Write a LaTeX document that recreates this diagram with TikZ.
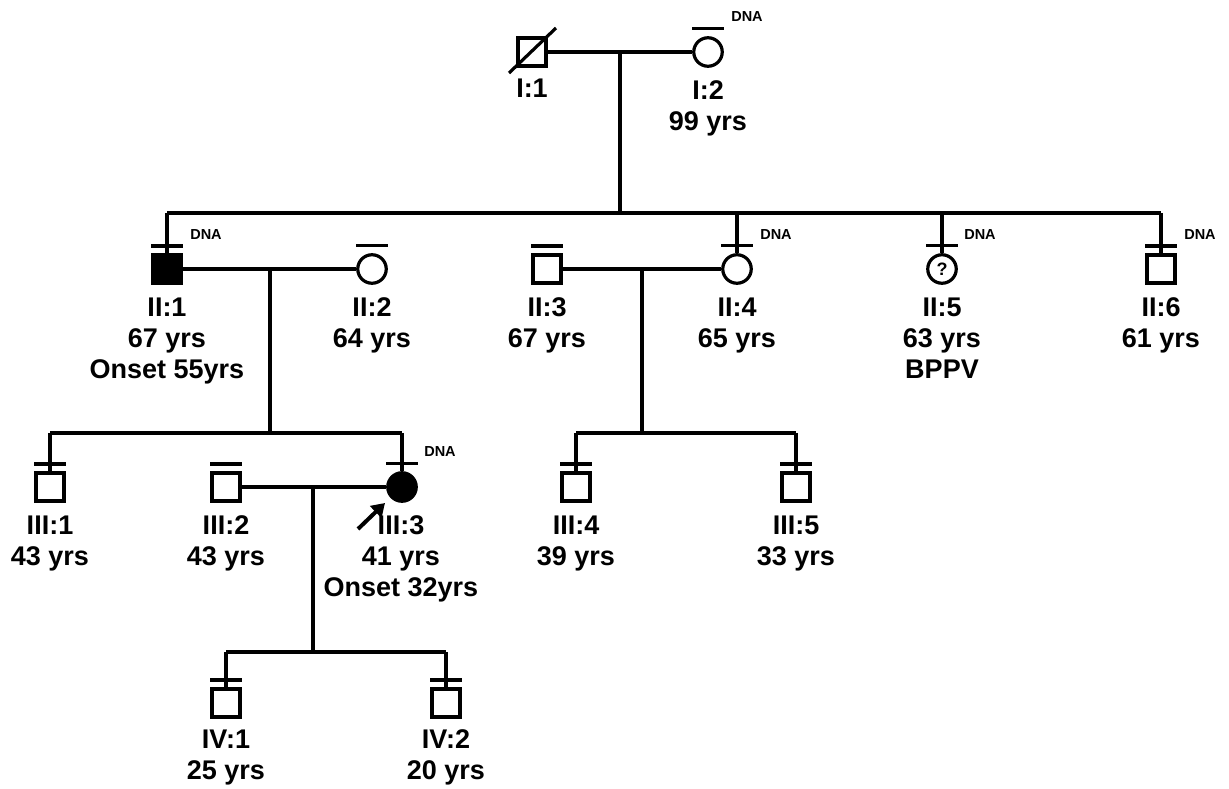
\documentclass[tikz,border=0pt]{standalone}
\usepackage{fontspec}
\setmainfont{Liberation Sans}
\usetikzlibrary{calc,arrows.meta}
\newcommand\tbar[1]{\draw[ln] ([xshift=-16pt,yshift=7.5pt]#1.north) -- ([xshift=16pt,yshift=7.5pt]#1.north);}
\begin{document}
\begin{tikzpicture}[x=1pt,y=-1pt,
  ln/.style={line width=3.2pt},
  male/.style={draw,line width=3.2pt,rectangle,minimum size=28pt,inner sep=0pt},
  female/.style={draw,line width=3.2pt,circle,minimum size=28.5pt,inner sep=0pt},
  aff/.style={fill=black},
  lab/.style={align=center,font=\fontsize{27}{31}\selectfont\bfseries,anchor=base,inner sep=0pt},
  dna/.style={font=\fontsize{14.5}{16}\selectfont\bfseries,inner sep=0pt}]
\useasboundingbox (0,0) rectangle (1229,789);

% Generation I
\node[male] (I1) at (532,52) {};
\node[female] (I2) at (708,52) {};
\draw[ln] ($(I1.center)+(-23,21)$) -- ($(I1.center)+(24,-24)$);
\tbar{I2}
\node[dna] (I2d) at (747,17) {DNA};
\coordinate (m1) at (620,52);
\coordinate (s2) at (620,213);
\draw[ln] (I1) -- (I2);
\draw[ln] (m1) -- (s2);
\node[lab] (I1l) at (532,98) {I:1};
\node[lab] (I2l) at (708,131) {I:2\\99 yrs};

% Generation II
\node[male,aff] (II1) at (167,269) {};
\node[female] (II2) at (372,269) {};
\node[male] (II3) at (547,269) {};
\node[female] (II4) at (737,269) {};
\node[female,font=\fontsize{18}{18}\selectfont\bfseries] (II5) at (942,269) {?};
\node[male] (II6) at (1161,269) {};
\coordinate (s2l) at (167,213);
\coordinate (s2r) at (1161,213);
\draw[ln] (s2l) -- (s2r);
\foreach \n in {II1,II4,II5,II6}{\draw[ln] (\n|-s2l) -- (\n.north);}
\foreach \n in {II1,II2,II3,II4,II5,II6}{\tbar{\n}}
\node[dna] (II1d) at (206,235) {DNA};
\node[dna] (II4d) at (776,235) {DNA};
\node[dna] (II5d) at (980,235) {DNA};
\node[dna] (II6d) at (1200,235) {DNA};
\draw[ln] (II1) -- (II2);
\draw[ln] (II3) -- (II4);
\coordinate (m2a) at (270,269);
\coordinate (m2b) at (642,269);
\coordinate (s3a) at (270,433);
\coordinate (s3b) at (642,433);
\draw[ln] (m2a) -- (s3a);
\draw[ln] (m2b) -- (s3b);
\node[lab] (II1l) at (167,378) {II:1\\67 yrs\\Onset 55yrs};
\node[lab] (II2l) at (372,347) {II:2\\64 yrs};
\node[lab] (II3l) at (547,347) {II:3\\67 yrs};
\node[lab] (II4l) at (737,347) {II:4\\65 yrs};
\node[lab] (II5l) at (942,378) {II:5\\63 yrs\\BPPV};
\node[lab] (II6l) at (1161,347) {II:6\\61 yrs};

% Generation III
\node[male] (III1) at (50,487) {};
\node[male] (III2) at (226,487) {};
\node[female,aff] (III3) at (402,487) {};
\node[male] (III4) at (576,487) {};
\node[male] (III5) at (796,487) {};
\coordinate (s3al) at (50,433);
\coordinate (s3ar) at (402,433);
\coordinate (s3bl) at (576,433);
\coordinate (s3br) at (796,433);
\draw[ln] (s3al) -- (s3ar);
\draw[ln] (s3bl) -- (s3br);
\foreach \n in {III1,III3,III4,III5}{\draw[ln] (\n|-s3a) -- (\n.north);}
\foreach \n in {III1,III2,III3,III4,III5}{\tbar{\n}}
\node[dna] (III3d) at (440,452) {DNA};
\draw[ln] (III2) -- (III3);
\coordinate (m3) at (313,487);
\coordinate (s4) at (313,652);
\draw[ln] (m3) -- (s4);
\coordinate (pa) at (358,529);
\coordinate (pb) at (385,503);
\draw[line width=4pt,-{Triangle[length=13pt,width=16pt]}] (pa) -- (pb);
\node[lab] (III1l) at (50,565) {III:1\\43 yrs};
\node[lab] (III2l) at (226,565) {III:2\\43 yrs};
\node[lab] (III3l) at (401,596) {III:3\\41 yrs\\Onset 32yrs};
\node[lab] (III4l) at (576,565) {III:4\\39 yrs};
\node[lab] (III5l) at (796,565) {III:5\\33 yrs};

% Generation IV
\node[male] (IV1) at (226,703) {};
\node[male] (IV2) at (446,703) {};
\coordinate (s4l) at (226,652);
\coordinate (s4r) at (446,652);
\draw[ln] (s4l) -- (s4r);
\foreach \n in {IV1,IV2}{\draw[ln] (\n|-s4) -- (\n.north); \tbar{\n}}
\node[lab] (IV1l) at (226,779) {IV:1\\25 yrs};
\node[lab] (IV2l) at (446,779) {IV:2\\20 yrs};
\end{tikzpicture}
\end{document}
